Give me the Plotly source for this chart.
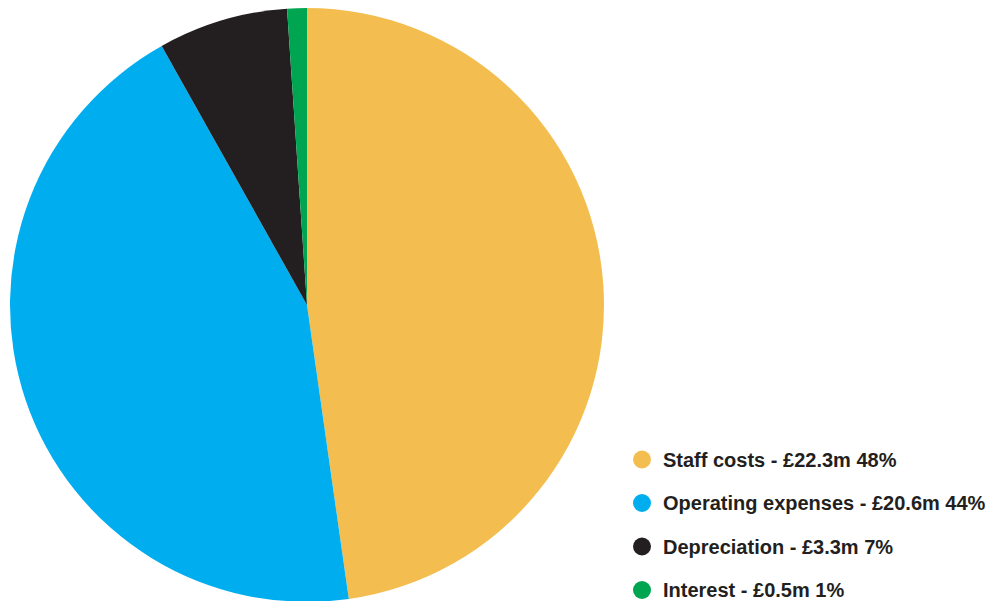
import plotly.graph_objects as go

labels = ["Staff costs", "Operating expenses", "Depreciation", "Interest"]
values = [22.3, 20.6, 3.3, 0.5]
colors = ["#F3BE4F", "#00AEEF", "#231F20", "#00A551"]

W, H = 996, 601
OFF = 8          # page body offset
B = 7
PH = H - B       # plot area height in px
total = sum(values)

fig = go.Figure()
fig.add_trace(go.Pie(
    labels=labels, values=values, sort=False, direction="clockwise", rotation=0,
    marker=dict(colors=colors, line=dict(color="white", width=0)),
    textinfo="none", hoverinfo="label+value+percent",
    domain=dict(x=[0, (307 - OFF) * 2 / W], y=[0, 1]), showlegend=False,
))

legend_y_px = [459.5, 503, 546.5, 590]
shapes, annots = [], []
for lab, val, col, ypx in zip(labels, values, colors, legend_y_px):
    yp = (PH - (ypx - OFF)) / PH
    shapes.append(dict(type="circle", xref="paper", yref="paper",
                       xsizemode="pixel", ysizemode="pixel",
                       xanchor=(642 - OFF) / W, yanchor=yp,
                       x0=-9, x1=9, y0=-9, y1=9,
                       fillcolor=col, line=dict(width=0)))
    pct = round(val / total * 100)
    annots.append(dict(xref="paper", yref="paper", x=(661 - OFF) / W, y=yp,
                       xanchor="left", yanchor="middle", showarrow=False,
                       text=f"<b>{lab} - £{val:.1f}m {pct}%</b>",
                       font=dict(family="Liberation Sans, Arial", size=20, color="#231F20")))

fig.update_layout(width=W, height=H, margin=dict(l=0, r=0, t=0, b=B),
                  paper_bgcolor="white", plot_bgcolor="white",
                  shapes=shapes, annotations=annots)
fig.write_html("out.html")
